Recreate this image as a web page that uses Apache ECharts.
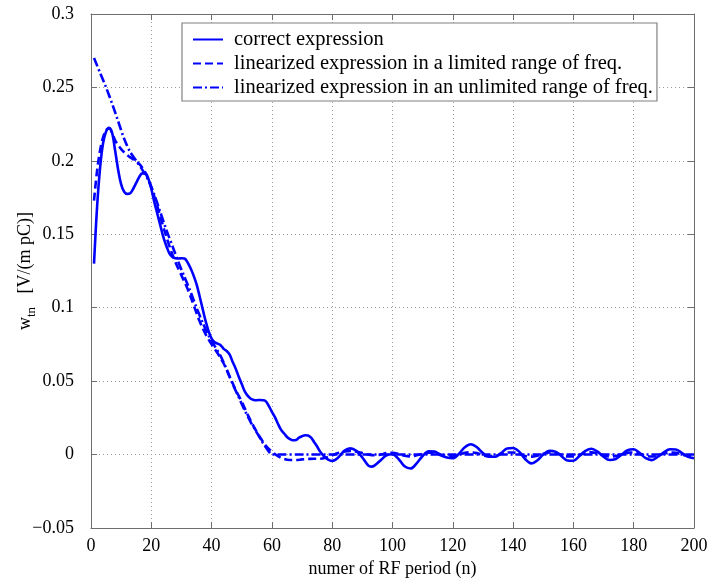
<!DOCTYPE html>
<html>
<head>
<meta charset="utf-8">
<script src="https://cdn.jsdelivr.net/npm/echarts@6/dist/echarts.min.js"></script>
<style>
html,body{margin:0;padding:0;background:#fff;}
#c{width:711px;height:583px;}
</style>
</head>
<body>
<div id="c"></div>
<script>
// ---- data ----
var seriesNames = [
  'correct expression',
  'linearized expression in a limited range of freq.',
  'linearized expression in an unlimited range of freq.'
];
var xTicks = [0, 20, 40, 60, 80, 100, 120, 140, 160, 180, 200];
var yTicks = [-0.05, 0, 0.05, 0.1, 0.15, 0.2, 0.25, 0.3];

var xCorrect = [1,2,3,4,5,6,7,8,9,10,11,12,13,14,15,16,17,18,19,20,21,22,23,24,25,26,27,28,29,30,31,32,33,34,35,36,37,38,39,40,41,42,43,44,45,46,47,48,49,50,51,52,53,54,55,56,57,58,59,60,61,62,63,64,65,66,67,68,69,70,71,72,73,74,75,76,77,78,79,80,82,84,86,88,90,92,93,94,96,98,100,102,104,106,108,110,112,114,116,118,120,122,124,126,128,130,132,134,136,138,140,142,144,146,148,150,152,154,156,158,160,162,164,166,168,170,172,174,176,178,180,182,184,186,188,190,192,194,196,198,200];
var yCorrect = [0.130,0.168,0.195,0.212,0.220,0.2225,0.219,0.207,0.194,0.184,0.179,0.1775,0.178,0.181,0.185,0.189,0.1915,0.1915,0.188,0.181,0.172,0.164,0.156,0.148,0.142,0.137,0.1345,0.1337,0.1335,0.1337,0.1335,0.131,0.127,0.122,0.116,0.108,0.0995,0.091,0.084,0.079,0.0765,0.0755,0.0745,0.072,0.0705,0.068,0.063,0.0585,0.053,0.048,0.043,0.040,0.038,0.0372,0.037,0.0372,0.037,0.0362,0.033,0.029,0.0255,0.021,0.017,0.0145,0.012,0.0105,0.0098,0.010,0.0115,0.0125,0.0132,0.013,0.0115,0.0085,0.0055,0.002,-0.0005,-0.0025,-0.0038,-0.0043,-0.002,0.0025,0.0042,0.0025,-0.002,-0.0075,-0.0082,-0.0075,-0.004,-0.0005,0.0002,-0.003,-0.008,-0.0095,-0.006,-0.001,0.0022,0.002,-0.0005,-0.002,-0.0025,0.0005,0.005,0.007,0.005,0.001,-0.0015,-0.0015,0.001,0.0042,0.0045,0.002,-0.003,-0.006,-0.004,0.0,0.0025,0.002,-0.001,-0.004,-0.0042,-0.001,0.0025,0.004,0.002,-0.0015,-0.0037,-0.003,0.0,0.003,0.0036,0.001,-0.0025,-0.0038,-0.0015,0.0015,0.0036,0.0035,0.001,-0.0015,-0.0025];

var xLimited = [1,2,3,4,5,6,7,8,10,12,14,16,18,20,22,24,26,28,30,32,34,36,38,40,42,44,46,48,50,52,54,56,58,60,62,64,66,68,70,72,74,76,78,80,82,84,86,88,90,92,94,96,98,100,102,104,106,108,110,112,114,116,118,120,122,124,126,128,130,132,134,136,138,140,142,144,146,148,150,152,154,156,158,160,162,164,166,168,170,172,174,176,178,180,182,184,186,188,190,192,194,196,198,200];
var yLimited = [0.173,0.193,0.207,0.216,0.221,0.222,0.219,0.214,0.208,0.204,0.201,0.198,0.192,0.182,0.169,0.155,0.142,0.131,0.122,0.113,0.102,0.091,0.082,0.075,0.069,0.062,0.053,0.044,0.036,0.027,0.019,0.012,0.006,0.002,-0.001,-0.003,-0.0037,-0.0037,-0.0033,-0.003,-0.0028,-0.0028,-0.002,-0.0005,0.001,0.002,0.0025,0.002,0.001,0.0,-0.0005,0.0,0.001,0.0012,0.0005,-0.0008,-0.0012,-0.0005,0.0005,0.0012,0.0012,0.0,-0.001,-0.0012,0.0,0.0012,0.0015,0.001,-0.0005,-0.0012,-0.001,0.0005,0.0014,0.0014,0.0005,-0.001,-0.0014,-0.0008,0.0005,0.0014,0.0012,0.0,-0.0012,-0.0013,-0.0002,0.0012,0.0015,0.0008,-0.0005,-0.0013,-0.001,0.0003,0.0013,0.0014,0.0005,-0.0008,-0.0013,-0.0006,0.0006,0.0014,0.0012,0.0,-0.0008,-0.001];

var xUnlimited = [1,3,5,7,9,11,13,15,17,19,21,23,25,27,29,31,33,35,37,39,41,43,45,47,49,51,53,55,57,59,60,62,70,80,90,100,110,120,130,140,150,160,170,180,190,200];
var yUnlimited = [0.270,0.260,0.250,0.239,0.227,0.215,0.206,0.200,0.194,0.187,0.177,0.165,0.153,0.142,0.131,0.121,0.111,0.100,0.090,0.081,0.074,0.067,0.058,0.048,0.039,0.030,0.022,0.015,0.008,0.002,0.0,0.0,0.0,0.0,0.0,0.0,0.0,0.0,0.0,0.0,0.0,0.0,0.0,0.0,0.0,0.0];

function pairs(xs, ys){ return xs.map(function(x,i){ return [x, ys[i]]; }); }

var FONT = '"Liberation Serif","DejaVu Serif",serif';
var BLUE = '#0000ff';
var fmtY = function(v){ var r = Math.round(v*100)/100; return String(r).replace('-', '\u2212'); };

var chart = echarts.init(document.getElementById('c'), null, {renderer:'canvas'});
var axisCommon = {
  type:'value',
  axisLine:{show:true, onZero:false, lineStyle:{color:'#6e6e6e', width:1}},
  axisTick:{show:true, inside:true, length:6, lineStyle:{color:'#6e6e6e'}},
  splitLine:{show:false}
};
chart.setOption({
  backgroundColor:'#ffffff',
  animation:false,
  grid:{left:91, top:14, right:17, bottom:55, containLabel:false, outerBoundsMode:'none'},
  legend:{
    show:true,
    left:182, top:23,
    orient:'vertical',
    backgroundColor:'#ffffff',
    borderColor:'#808080', borderWidth:1.2,
    padding:[6, 4, 3, 10],
    itemGap:3,
    itemWidth:30, itemHeight:14,
    itemStyle:{opacity:0},
    textStyle:{fontFamily:FONT, fontSize:20.5, color:'#000', padding:[0,0,0,6]},
    data: seriesNames
  },
  xAxis:[
    Object.assign({}, axisCommon, {
      position:'bottom', min:0, max:200, interval:20,
      axisLabel:{show:true, margin:9, fontFamily:FONT, fontSize:18, color:'#000'},
      splitLine:{show:true, lineStyle:{color:'#9a9a9a', type:[1,3], width:1}},
      name:'numer of RF period (n)', nameLocation:'middle', nameGap:29,
      nameTextStyle:{fontFamily:FONT, fontSize:18, color:'#000'}
    }),
    Object.assign({}, axisCommon, {
      position:'top', min:0, max:200, interval:20,
      axisLabel:{show:false}
    })
  ],
  yAxis:[
    Object.assign({}, axisCommon, {
      position:'left', min:-0.05, max:0.3, interval:0.05,
      axisLabel:{show:true, margin:17, fontFamily:FONT, fontSize:18, color:'#000', formatter:fmtY},
      splitLine:{show:true, lineStyle:{color:'#9a9a9a', type:[1,3], width:1}},
      name:'{w|w}{s|tn}{t|   [V/(m pC)]}', nameLocation:'middle', nameGap:53, nameRotate:90,
      nameMoveOverlap:false,
      nameTextStyle:{
        fontFamily:FONT, fontSize:18, color:'#000',
        rich:{
          w:{fontFamily:FONT, fontSize:18, color:'#000'},
          s:{fontFamily:FONT, fontSize:13, color:'#000', verticalAlign:'top', padding:[12,0,0,0]},
          t:{fontFamily:FONT, fontSize:18, color:'#000'}
        }
      }
    }),
    Object.assign({}, axisCommon, {
      position:'right', min:-0.05, max:0.3, interval:0.05,
      axisLabel:{show:false}
    })
  ],
  series:[
    {name:seriesNames[0], type:'line', data:pairs(xCorrect,yCorrect), smooth:0.35, symbol:'none',
     lineStyle:{color:BLUE, width:2.6, type:'solid'}, itemStyle:{color:BLUE}, z:3},
    {name:seriesNames[1], type:'line', data:pairs(xLimited,yLimited), smooth:0.35, symbol:'none',
     lineStyle:{color:BLUE, width:2.6, type:[8,4]}, itemStyle:{color:BLUE}, z:2},
    {name:seriesNames[2], type:'line', data:pairs(xUnlimited,yUnlimited), smooth:0.3, symbol:'none',
     lineStyle:{color:BLUE, width:2.6, type:[9,3,2,3]}, itemStyle:{color:BLUE}, z:2}
  ]
});
</script>
</body>
</html>
